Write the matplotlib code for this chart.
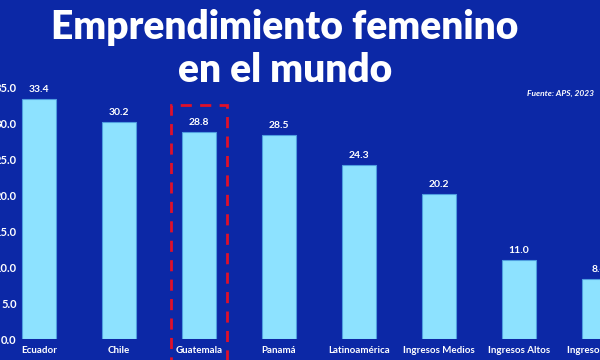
import matplotlib
matplotlib.use('Agg')
import matplotlib.pyplot as plt
from matplotlib.patches import Rectangle

# Data
categories = ["Ecuador", "Chile", "Guatemala", "Panamá", "Latinoamérica",
              "Ingresos Medios", "Ingresos Altos", "Ingresos Bajos"]
values = [33.4, 30.2, 28.8, 28.5, 24.3, 20.2, 11.0, 8.4]
yticks = [0, 5, 10, 15, 20, 25, 30, 35]
highlight = "Guatemala"

bg = "#0C28A6"
bar_color = "#8DE2FF"
edge_color = "#4F9EE0"

plt.rcParams['font.family'] = ['Lato', 'DejaVu Sans']

fig = plt.figure(figsize=(6, 3.6), dpi=100, facecolor=bg)
# axes spans the full width; first and last categories are partially cut off
ax = fig.add_axes([0, 21 / 360, 1, 251 / 360])
ax.set_facecolor(bg)

x = list(range(len(categories)))
bars = ax.bar(x, values, width=0.42, color=bar_color, edgecolor=edge_color, linewidth=0.8)

for b, v in zip(bars, values):
    ax.text(b.get_x() + b.get_width() / 2, v + 0.7, f"{v:.1f}", ha='center', va='bottom',
            color='white', fontsize=7.5, fontweight='bold')

# dashed highlight box around Guatemala
i = categories.index(highlight)
box = Rectangle((i - 0.345, -5), 0.69, 37.6, fill=False, edgecolor='#E0102A',
                linewidth=2, linestyle=(0, (4, 3)), clip_on=False)
ax.add_patch(box)

ax.set_xlim(-39 / 80, (600 - 39) / 80)
ax.set_ylim(0, 35)
ax.set_xticks(x)
ax.set_xticklabels(categories, color='white', fontsize=7, fontweight='bold')
ax.set_yticks(yticks)
ax.set_yticklabels([f"{t:.1f}" for t in yticks], color='white', fontsize=8, fontweight='bold')
ax.tick_params(axis='x', length=0, pad=5)
ax.tick_params(axis='y', length=0, pad=-12)
for s in ax.spines.values():
    s.set_visible(False)

fig.text(285 / 600, 1 - 28 / 360, "Emprendimiento femenino", ha='center', va='center',
         color='white', fontsize=28, fontweight='heavy')
fig.text(285 / 600, 1 - 70 / 360, "en el mundo", ha='center', va='center',
         color='white', fontsize=28, fontweight='heavy')
fig.text(594 / 600, 1 - 93 / 360, "Fuente: APS, 2023", ha='right', va='center',
         color='white', fontsize=6, fontweight='bold', style='italic')

fig.savefig("out.png", dpi=100, facecolor=bg)
